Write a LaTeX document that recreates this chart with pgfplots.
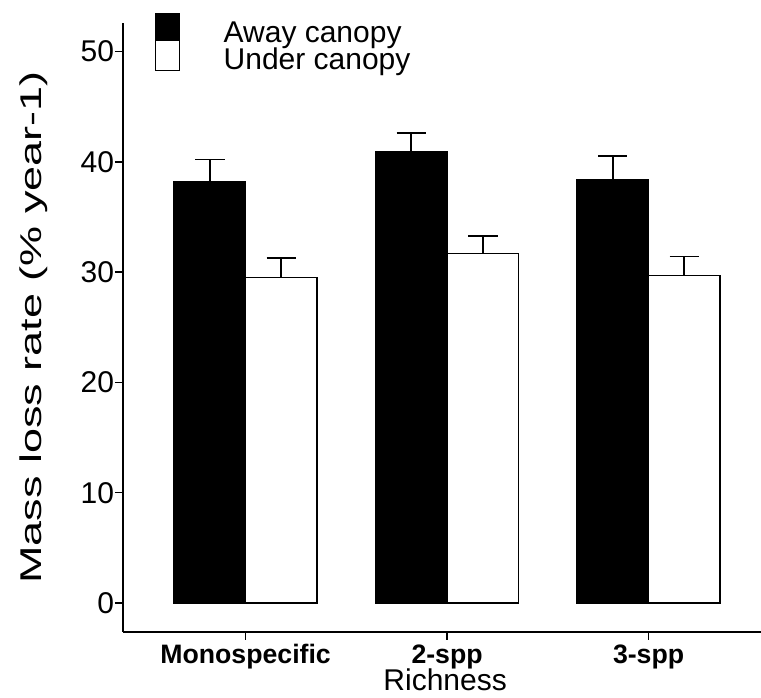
\documentclass[border=0pt]{standalone}
\usepackage{fontspec}
\setmainfont{Liberation Sans}
\usepackage{pgfplots}
\usepackage{pgfplotstable}
\pgfplotsset{compat=1.18}

% mean mass loss rate and standard error per richness level
\pgfplotstableread{
x away awayse under underse
1 38.2 2.0 29.5 1.75
2 40.9 1.7 31.7 1.55
3 38.4 2.1 29.7 1.7
}\ratedata

\begin{document}
\begin{tikzpicture}
\begin{axis}[
  scale only axis,
  width=478.5pt, height=456.75pt,
  xmin=0.3915, xmax=3.558,
  ymin=-2.63, ymax=52.58,
  axis x line=bottom, axis y line=left,
  axis line style={-, line width=1.2pt, black},
  xtick={1,2,3},
  xticklabels={Monospecific,2-spp,3-spp},
  ytick={0,10,...,50},
  tick align=outside,
  major tick length=6pt,
  tick style={black, line width=1.2pt},
  /pgf/number format/assume math mode=true,
  ticklabel style={font=\fontsize{22.5}{22.5}\selectfont},
  yticklabel style={inner sep=0.5pt},
  xticklabel style={font=\bfseries\fontsize{20}{20}\selectfont, inner sep=3.3pt},
  ylabel={Mass loss rate (\% year-1)},
  ylabel style={at={(axis description cs:-0.127,0.5)}, anchor=base,
    font=\fontsize{22.5}{22.5}\selectfont, xscale=1.5},
  xlabel={Richness},
  xlabel style={at={(axis description cs:0.505,-0.0964)}, anchor=base,
    font=\fontsize{22.5}{22.5}\selectfont},
  legend style={draw=none, fill=none, inner sep=0pt, outer sep=0pt,
    at={(axis description cs:0.0502,1.0159)}, anchor=north west,
    font=\fontsize{22.5}{22.5}\selectfont,
    cells={anchor=base west}, nodes={inner sep=0pt},
    row sep=-3.7pt, column sep=32.5pt},
  legend image code/.code={\draw[#1, line width=1pt] (0pt,-0.95pt) rectangle (18pt,21.55pt);},
  clip=false,
]
% bars are offset half a bar width either side of each category
\addplot[ybar, bar width=0.355, bar shift=0, fill=black, draw=black, line width=1pt,
  error bars/.cd, y dir=plus, y explicit,
  error bar style={line width=1.3pt, black},
  error mark options={rotate=90, mark size=11pt, line width=1.3pt, black}]
  table[x expr=\thisrow{x}-0.1775, y=away, y error=awayse] {\ratedata};
\addlegendentry{Away canopy}
\addplot[ybar, bar width=0.355, bar shift=0, fill=white, draw=black, line width=1pt,
  error bars/.cd, y dir=plus, y explicit,
  error bar style={line width=1.3pt, black},
  error mark options={rotate=90, mark size=11pt, line width=1.3pt, black}]
  table[x expr=\thisrow{x}+0.1775, y=under, y error=underse] {\ratedata};
\addlegendentry{Under canopy}
\end{axis}
\pgfresetboundingbox
\path[use as bounding box] (-92.25pt,-49.5pt) rectangle (478.5pt,474pt);
\end{tikzpicture}
\end{document}
